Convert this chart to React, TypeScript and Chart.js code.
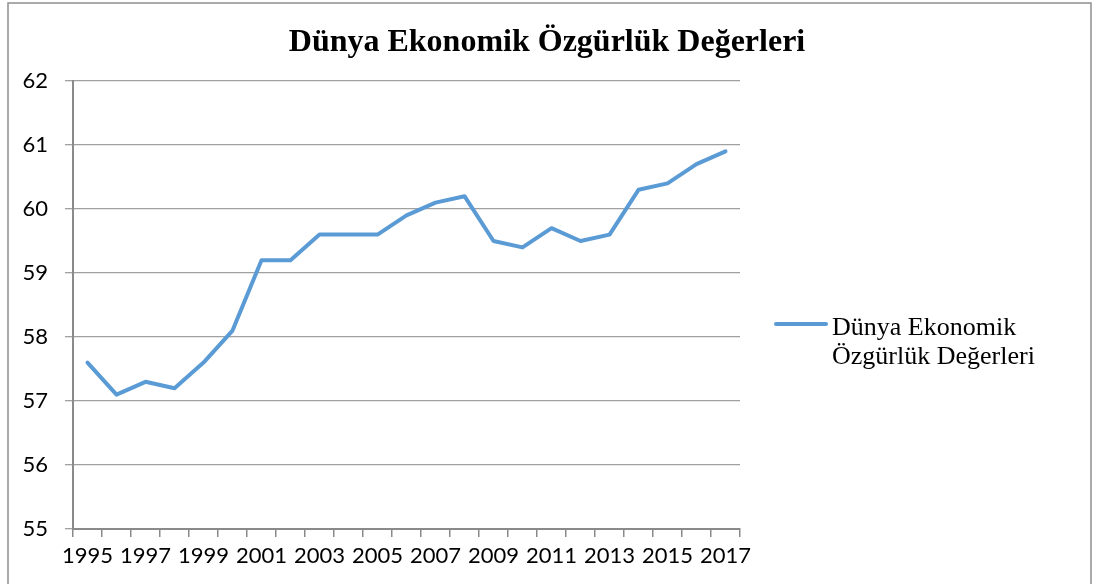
import React, { useEffect, useRef } from "react";
import { Chart, registerables } from "chart.js";

Chart.register(...registerables);

const years = [
  "1995", "1996", "1997", "1998", "1999", "2000", "2001", "2002", "2003", "2004", "2005", "2006",
  "2007", "2008", "2009", "2010", "2011", "2012", "2013", "2014", "2015", "2016", "2017",
];
const values = [
  57.6, 57.1, 57.3, 57.2, 57.6, 58.1, 59.2, 59.2, 59.6, 59.6, 59.6, 59.9,
  60.1, 60.2, 59.5, 59.4, 59.7, 59.5, 59.6, 60.3, 60.4, 60.7, 60.9,
];
const titleText = "Dünya Ekonomik Özgürlük Değerleri";
const legendLines = ["Dünya Ekonomik", "Özgürlük Değerleri"];
const yMin = 55;
const yMax = 62;

const LINE_COLOR = "#5B9BD5";

const decorPlugin = {
  id: "decor",
  afterDraw(chart: any) {
    const ctx = chart.ctx as CanvasRenderingContext2D;
    ctx.save();
    // outer border
    ctx.strokeStyle = "#8f8f8f";
    ctx.lineWidth = 1.5;
    ctx.strokeRect(8, 3, 1083, 700);
    // title
    ctx.fillStyle = "#000";
    ctx.font = "bold 32px 'Liberation Serif', 'Times New Roman', serif";
    ctx.textAlign = "center";
    ctx.textBaseline = "alphabetic";
    ctx.fillText(titleText, 547, 51);
    // legend
    ctx.strokeStyle = LINE_COLOR;
    ctx.lineWidth = 4;
    ctx.lineCap = "round";
    ctx.beginPath();
    ctx.moveTo(776, 324);
    ctx.lineTo(826, 324);
    ctx.stroke();
    ctx.font = "26px 'Liberation Serif', 'Times New Roman', serif";
    ctx.textAlign = "left";
    ctx.fillText(legendLines[0], 832, 335);
    ctx.fillText(legendLines[1], 832, 364);
    ctx.restore();
  },
};

export default function App() {
  const ref = useRef<HTMLCanvasElement>(null);
  useEffect(() => {
    if (!ref.current) return;
    const chart = new Chart(ref.current, {
      type: "line",
      data: {
        labels: years,
        datasets: [
          {
            label: titleText,
            data: values,
            borderColor: LINE_COLOR,
            backgroundColor: LINE_COLOR,
            borderWidth: 4,
            pointRadius: 0,
            tension: 0,
            borderJoinStyle: "round",
            borderCapStyle: "round",
          },
        ],
      },
      options: {
        animation: false,
        responsive: false,
        layout: { padding: { left: 0, top: 81, right: 354, bottom: 0 } },
        plugins: {
          legend: { display: false },
          title: { display: false },
          tooltip: { enabled: false },
        },
        scales: {
          x: {
            type: "category",
            offset: true,
            afterFit: (s: any) => {
              s.height = 55;
            },
            grid: {
              offset: true,
              drawOnChartArea: false,
              drawTicks: true,
              tickLength: 8,
              color: "#8a8a8a",
              lineWidth: 1.5,
            },
            border: { display: true, color: "#8a8a8a", width: 2 },
            ticks: {
              autoSkip: false,
              maxRotation: 0,
              minRotation: 0,
              padding: 6,
              color: "#000",
              font: { family: "Lato", size: 22 },
              callback: (_v: any, i: number) => (i % 2 === 0 ? years[i] : ""),
            },
          },
          y: {
            min: yMin,
            max: yMax,
            afterFit: (s: any) => {
              s.width = 73;
            },
            grid: {
              color: "#a0a0a0",
              lineWidth: 1.3,
              tickLength: 8,
            },
            border: { display: true, color: "#8a8a8a", width: 2 },
            ticks: {
              stepSize: 1,
              padding: 17,
              color: "#000",
              font: { family: "Lato", size: 22 },
            },
          },
        },
      },
      plugins: [decorPlugin],
    });
    return () => chart.destroy();
  }, []);
  return (
    <div style={{ position: "fixed", left: 0, top: 0, width: 1094, height: 584, background: "#fff" }}>
      <canvas ref={ref} width={1094} height={584} style={{ width: 1094, height: 584, display: "block" }} />
    </div>
  );
}
